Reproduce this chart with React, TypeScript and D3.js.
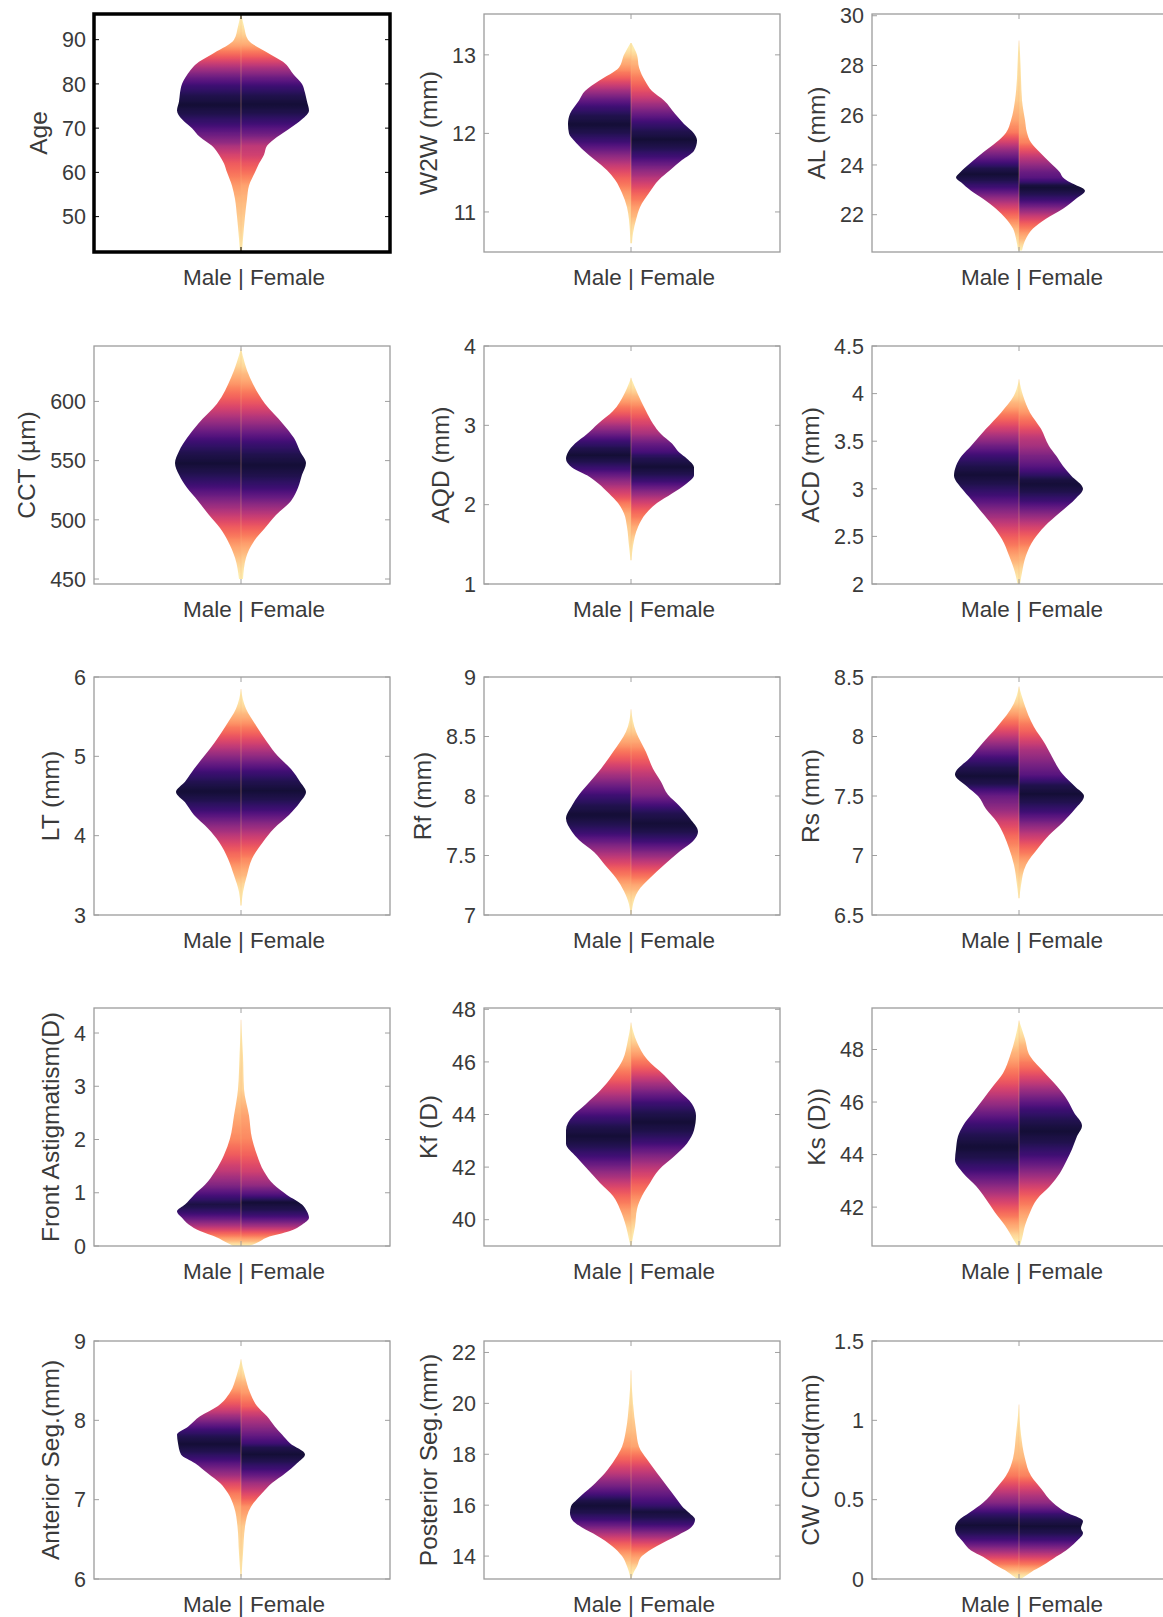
import React from 'react';
import * as d3 from 'd3';

// ---------- data ----------
const panelLabels = [
  'Age', 'W2W (mm)', 'AL (mm)',
  'CCT (µm)', 'AQD (mm)', 'ACD (mm)',
  'LT (mm)', 'Rf (mm)', 'Rs (mm)',
  'Front Astigmatism(D)', 'Kf (D)', 'Ks (D))',
  'Anterior Seg.(mm)', 'Posterior Seg.(mm)', 'CW Chord(mm)',
];

const groupLabel = 'Male | Female';

const yDomains: [number, number][] = [
  [42, 95.8], [10.49, 13.52], [20.5, 30.07],
  [445.8, 646.8], [1, 4], [2, 4.5],
  [3, 6], [7, 9], [6.5, 8.5],
  [0, 4.47], [39, 48.05], [40.52, 49.58],
  [6, 9], [13.1, 22.45], [0, 1.5],
];

const yTicks: number[][] = [
  [50, 60, 70, 80, 90], [11, 12, 13], [22, 24, 26, 28, 30],
  [450, 500, 550, 600], [1, 2, 3, 4], [2, 2.5, 3, 3.5, 4, 4.5],
  [3, 4, 5, 6], [7, 7.5, 8, 8.5, 9], [6.5, 7, 7.5, 8, 8.5],
  [0, 1, 2, 3, 4], [40, 42, 44, 46, 48], [42, 44, 46, 48],
  [6, 7, 8, 9], [14, 16, 18, 20, 22], [0, 0.5, 1, 1.5],
];

// value levels at which the half-violin widths were read
const gridY: number[][] = [
  [42, 45, 50, 54, 57, 60, 62, 64, 66, 68, 70, 72, 74, 76, 78, 80, 82, 85, 87, 90, 93, 95.5],
  [10.6, 10.73, 10.9, 11.06, 11.24, 11.41, 11.53, 11.66, 11.78, 11.91, 12.0, 12.12, 12.25, 12.42, 12.54, 12.67, 12.84, 13.0, 13.15],
  [20.56, 21.04, 21.44, 21.84, 22.24, 22.64, 22.96, 23.3, 23.5, 23.7, 24.1, 24.5, 24.9, 25.3, 25.8, 26.6, 27.5, 28.5, 29.0],
  [450, 468, 482, 493, 504, 516, 527, 538, 548, 558, 569, 581, 598, 620, 645],
  [1.3, 1.48, 1.72, 1.89, 2.02, 2.14, 2.27, 2.37, 2.47, 2.58, 2.66, 2.77, 2.89, 3.02, 3.18, 3.39, 3.6],
  [2.0, 2.12, 2.3, 2.47, 2.61, 2.75, 2.89, 3.0, 3.14, 3.24, 3.35, 3.45, 3.63, 3.8, 3.98, 4.15],
  [3.12, 3.29, 3.5, 3.71, 3.92, 4.09, 4.26, 4.42, 4.55, 4.68, 4.84, 5.0, 5.18, 5.39, 5.6, 5.85],
  [7.0, 7.09, 7.2, 7.31, 7.42, 7.53, 7.63, 7.7, 7.81, 7.92, 8.01, 8.12, 8.23, 8.37, 8.54, 8.73],
  [6.64, 6.75, 6.92, 7.06, 7.17, 7.28, 7.39, 7.5, 7.58, 7.68, 7.83, 7.94, 8.08, 8.28, 8.42],
  [0, 0.06, 0.16, 0.28, 0.4, 0.53, 0.65, 0.78, 0.96, 1.15, 1.4, 1.71, 2.02, 2.45, 2.95, 3.57, 4.25],
  [39.0, 39.25, 39.75, 40.4, 40.9, 41.4, 41.9, 42.4, 42.9, 43.4, 43.95, 44.4, 44.9, 45.5, 46.1, 46.75, 47.5],
  [40.55, 40.8, 41.3, 41.8, 42.3, 42.8, 43.3, 43.8, 44.2, 44.7, 45.1, 45.6, 46.1, 46.6, 47.1, 47.75, 48.4, 49.1],
  [6.03, 6.32, 6.66, 6.91, 7.08, 7.21, 7.33, 7.46, 7.57, 7.71, 7.82, 7.92, 8.05, 8.18, 8.35, 8.56, 8.77],
  [13.1, 13.3, 13.6, 14.0, 14.4, 14.8, 15.12, 15.44, 15.7, 15.96, 16.22, 16.74, 17.26, 17.8, 18.3, 18.95, 20.0, 21.3],
  [0, 0.043, 0.086, 0.14, 0.18, 0.235, 0.29, 0.32, 0.365, 0.42, 0.48, 0.57, 0.65, 0.76, 0.91, 1.1],
];

// relative density (half-width) of the male half at each level
const maleDensity: number[][] = [
  [1, 2, 4, 6, 9, 14, 17, 22, 29, 41, 49, 59, 64, 62, 61, 59, 54, 42, 27, 7, 3, 0.5],
  [0.5, 1, 2, 4, 9, 16, 24, 36, 47, 57, 62, 63, 61, 52, 46, 32, 12, 7, 0.5],
  [1, 3, 6, 13, 23, 36, 48, 58, 63, 59, 48, 36, 23, 13, 8, 4, 2, 1, 0],
  [2, 6, 13, 21, 32, 43, 54, 62, 66, 62, 54, 43, 24, 10, 0],
  [0.5, 2, 4, 7, 13, 22, 33, 44, 59, 65, 63, 56, 44, 33, 18, 7, 0],
  [1.5, 4, 10, 17, 26, 37, 48, 57, 65, 63, 57, 48, 33, 18, 5, 0],
  [0.5, 2, 7, 13, 22, 33, 47, 56, 65, 56, 47, 37, 26, 15, 5, 0],
  [0.5, 2, 7, 15, 26, 37, 52, 59, 65, 59, 52, 41, 30, 18, 5, 0],
  [0.5, 2, 5, 10, 15, 22, 33, 41, 52, 64, 48, 37, 22, 5, 0],
  [8, 14, 24, 41, 52, 59, 64, 56, 47, 36, 26, 17, 11, 7, 3, 1.5, 0],
  [0.5, 2, 5, 11, 18, 31, 43, 55, 65, 65, 58, 45, 31, 18, 8, 3.5, 0],
  [2, 6, 14, 24, 33, 43, 56, 64, 63, 61, 56, 46, 36, 26, 16, 9, 4, 0],
  [0.5, 2, 3.5, 7, 13, 21, 33, 46, 60, 63, 64, 53, 41, 23, 11, 4.5, 0],
  [0.5, 1.5, 4, 9, 19, 34, 49, 59, 61, 60, 54, 39, 26, 16, 9, 5, 2, 0],
  [2, 11, 23, 36, 48, 56, 63, 64, 61, 49, 36, 23, 13, 6, 3, 0],
];

// relative density (half-width) of the female half at each level
const femaleDensity: number[][] = [
  [1, 2, 4, 6, 8, 14, 18, 23, 26, 36, 49, 61, 68, 66, 64, 61, 53, 42, 27, 7, 3, 0.5],
  [1, 2, 5, 9, 18, 28, 39, 51, 63, 66, 63, 53, 44, 33, 21, 14, 8, 6, 0.5],
  [3, 7, 14, 27, 44, 57, 66, 51, 44, 41, 31, 21, 12, 8, 6, 3, 2, 1, 0],
  [2, 5, 13, 24, 35, 50, 57, 61, 65, 59, 53, 42, 24, 9, 0],
  [0.5, 2, 7, 15, 26, 41, 56, 63, 63, 56, 48, 41, 30, 22, 15, 7, 0],
  [1, 3, 7, 15, 26, 41, 56, 64, 52, 44, 37, 30, 22, 11, 4, 0],
  [0.5, 2, 6, 11, 22, 33, 48, 59, 65, 59, 50, 37, 26, 15, 5, 0],
  [0.5, 2, 7, 19, 33, 48, 63, 67, 59, 48, 37, 30, 22, 15, 5, 0],
  [0.5, 2, 7, 19, 30, 44, 56, 65, 56, 44, 33, 26, 15, 5, 0],
  [8, 16, 26, 49, 61, 68, 66, 61, 46, 33, 23, 16, 11, 8, 3, 2, 0],
  [0.5, 1.5, 4, 6, 11, 19, 28, 43, 56, 63, 65, 61, 48, 33, 16, 6, 0],
  [1, 3, 6, 11, 18, 31, 41, 48, 53, 58, 63, 55, 48, 38, 26, 11, 6, 0],
  [0.5, 2, 4, 10, 21, 31, 44, 56, 64, 49, 41, 34, 26, 16, 9, 4, 0],
  [0.5, 2, 6, 11, 26, 46, 60, 64, 58, 51, 46, 36, 26, 16, 8, 5, 2, 0],
  [2, 12, 24, 37, 47, 57, 64, 62, 64, 47, 34, 22, 12, 6, 2, 0],
];

// ---------- layout / style ----------
const WIDTH = 1163;
const HEIGHT = 1617;
const COL_LEFT = [94, 484, 872];
const ROW_TOP = [14, 346, 677, 1008, 1341];
const PW = 296;
const PH = 238;
const MAX_DENS = 66;
const FONT = '"Liberation Sans", Arial, Helvetica, sans-serif';
const TICK_FS = 21.5;
const XLAB_FS = 22.5;
const YLAB_FS = 24.5;

// colour by distance from the median (|2*CDF-1|) through the magma map,
// lightened where the density itself is low
const qToT = d3
  .scaleLinear()
  .domain([0, 0.2, 0.4, 0.55, 0.7, 0.82, 0.91, 0.97, 1])
  .range([0.1, 0.14, 0.21, 0.32, 0.46, 0.6, 0.72, 0.85, 0.97])
  .clamp(true);

function colorAt(q: number, d: number) {
  const r = Math.max(0, Math.min(1, d / MAX_DENS));
  const td = Math.min(0.97, 1 - Math.pow(r, 0.78));
  return d3.interpolateMagma(Math.max(qToT(q), td));
}

function textWidth(s: string, fs: number) {
  let w = 0;
  for (const c of s) w += c === '.' ? 0.278 : 0.556;
  return w * fs;
}

function HalfViolin({ id, grid, dens, cx, y, side }: any) {
  const wx = d3.scaleLinear().domain([0, MAX_DENS]).range([0, MAX_DENS]);
  const area = d3
    .area<number>()
    .curve(d3.curveMonotoneY)
    .y((_, k) => y(grid[k]))
    .x0(cx)
    .x1((d) => cx + side * wx(d));
  const y1 = y(grid[0]);
  const y2 = y(grid[grid.length - 1]);

  // fine samples along the profile for the cumulative distribution
  const SUB = 8;
  const samples: { v: number; d: number }[] = [];
  for (let k = 0; k < grid.length - 1; k++) {
    for (let s = 0; s < SUB; s++) {
      const f = s / SUB;
      samples.push({
        v: grid[k] + (grid[k + 1] - grid[k]) * f,
        d: dens[k] + (dens[k + 1] - dens[k]) * f,
      });
    }
  }
  samples.push({ v: grid[grid.length - 1], d: dens[dens.length - 1] });
  const cum: number[] = [0];
  for (let k = 1; k < samples.length; k++) {
    cum.push(cum[k - 1] + ((samples[k].d + samples[k - 1].d) / 2) * (samples[k].v - samples[k - 1].v));
  }
  const total = cum[cum.length - 1];
  const stops = samples.map((s, k) => {
    const q = Math.abs((2 * cum[k]) / total - 1);
    return { off: (y(s.v) - y1) / (y2 - y1), col: colorAt(q, s.d) };
  });

  return (
    <g>
      <defs>
        <linearGradient id={id} gradientUnits="userSpaceOnUse" x1={0} x2={0} y1={y1} y2={y2}>
          {stops.map((s, k) => (
            <stop key={k} offset={s.off} stopColor={s.col} />
          ))}
        </linearGradient>
      </defs>
      <path d={area(dens) || ''} fill={`url(#${id})`} />
    </g>
  );
}

function Panel({ i }: { i: number }) {
  const col = i % 3;
  const row = Math.floor(i / 3);
  const left = COL_LEFT[col];
  const top = ROW_TOP[row];
  const y = d3.scaleLinear().domain(yDomains[i]).range([top + PH, top]);
  const cx = left + PW / 2 - 1;
  const selected = i === 0;
  const boxColor = selected ? '#000' : '#9c9c9c';
  const tickColor = selected ? '#000' : '#a0a0a0';
  const ticks = yTicks[i];
  const maxTW = Math.max(...ticks.map((t) => textWidth(String(t), TICK_FS)));
  const labelX = left - maxTW - 32;
  const grid = gridY[i];
  return (
    <g>
      <clipPath id={`clip${i}`}>
        <rect x={left} y={top} width={PW} height={PH} />
      </clipPath>
      <rect x={left} y={top} width={PW} height={PH} fill="#fff" />
      <g clipPath={`url(#clip${i})`}>
        <HalfViolin id={`gm${i}`} grid={grid} dens={maleDensity[i]} cx={cx} y={y} side={-1} />
        <HalfViolin id={`gf${i}`} grid={grid} dens={femaleDensity[i]} cx={cx} y={y} side={1} />
        <line
          x1={cx}
          x2={cx}
          y1={y(grid[0])}
          y2={y(grid[grid.length - 1])}
          stroke="#fbb77a"
          strokeOpacity={0.3}
          strokeWidth={1.2}
        />
      </g>
      {ticks.map((t) => (
        <g key={t}>
          <line x1={left} x2={left + 5} y1={y(t)} y2={y(t)} stroke={tickColor} strokeWidth={1} />
          <line x1={left + PW} x2={left + PW - 5} y1={y(t)} y2={y(t)} stroke={tickColor} strokeWidth={1} />
          <text
            x={left - 8}
            y={y(t)}
            dy="0.36em"
            textAnchor="end"
            fontFamily={FONT}
            fontSize={TICK_FS}
            fill="#3a3a3a"
          >
            {String(t)}
          </text>
        </g>
      ))}
      <line x1={cx} x2={cx} y1={top} y2={top + 5} stroke={tickColor} strokeWidth={1} />
      <line x1={cx} x2={cx} y1={top + PH} y2={top + PH - 5} stroke={tickColor} strokeWidth={1} />
      <rect
        x={left}
        y={top}
        width={PW}
        height={PH}
        fill="none"
        stroke={boxColor}
        strokeWidth={selected ? 3.5 : 1.3}
      />
      <text
        x={cx + 0.58 * XLAB_FS}
        y={top + PH + 33}
        textAnchor="middle"
        fontFamily={FONT}
        fontSize={XLAB_FS}
        fill="#3a3a3a"
      >
        {groupLabel}
      </text>
      <text
        transform={`translate(${labelX},${top + PH / 2}) rotate(-90)`}
        textAnchor="middle"
        dy="0.36em"
        fontFamily={FONT}
        fontSize={YLAB_FS}
        fill="#3a3a3a"
      >
        {panelLabels[i]}
      </text>
    </g>
  );
}

export default function App() {
  React.useEffect(() => {
    document.body.style.margin = '0';
  }, []);
  return (
    <div style={{ position: 'absolute', left: 0, top: 0 }}>
      <svg width={WIDTH} height={HEIGHT} style={{ display: 'block', background: '#fff' }}>
        <rect x={0} y={0} width={WIDTH} height={HEIGHT} fill="#fff" />
        {panelLabels.map((_, i) => (
          <Panel key={i} i={i} />
        ))}
      </svg>
    </div>
  );
}
